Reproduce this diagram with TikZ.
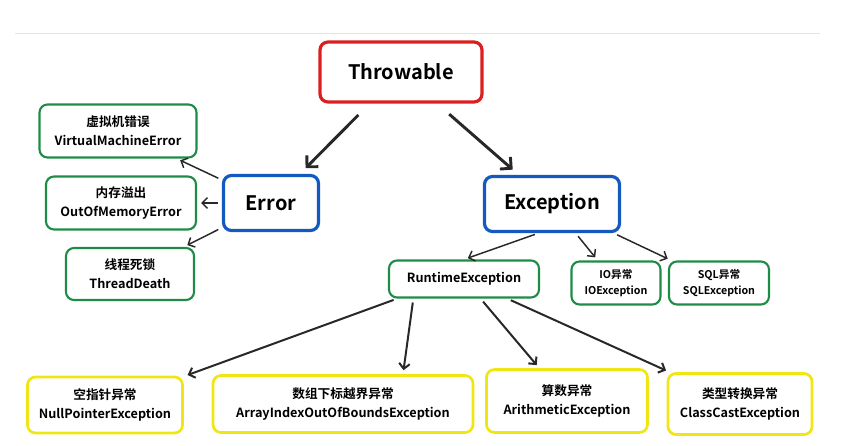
\documentclass[tikz,border=0pt]{standalone}
\usepackage{fontspec}
\setmainfont{Noto Sans CJK SC}[BoldFont={Noto Sans CJK SC Bold}]
\usetikzlibrary{arrows.meta}
\begin{document}
\begin{tikzpicture}[x=0.75pt,y=-0.75pt,
  box/.style={draw, rounded corners=6pt, line width=1.6pt, align=center, font=\bfseries\fontsize{9.5}{14}\selectfont, inner sep=0pt},
  red/.style={box, draw={rgb,255:red,220;green,30;blue,30}, line width=2.4pt},
  blue/.style={box, draw={rgb,255:red,20;green,90;blue,190}, line width=2.4pt},
  grn/.style={box, draw={rgb,255:red,30;green,140;blue,70}},
  yel/.style={box, draw={rgb,255:red,240;green,230;blue,20}, line width=2pt},
  big/.style={draw={rgb,255:red,40;green,40;blue,40}, line width=2.2pt, -{Straight Barb[length=6pt,width=12pt]}, shorten <=12pt, shorten >=6pt},
  sm/.style={draw={rgb,255:red,40;green,40;blue,40}, line width=1.1pt, -{Straight Barb[length=4pt,width=8pt]}, shorten <=3pt, shorten >=3pt}]
\useasboundingbox (0,0) rectangle (847,446);
\draw[gray!20, line width=0.6pt] (15,33) -- (820,33);
\node[red, minimum width=162*0.75pt, minimum height=60*0.75pt, font=\bfseries\fontsize{15}{16}\selectfont] (thr) at (401,72) {Throwable};
\node[blue, minimum width=95*0.75pt, minimum height=55*0.75pt, font=\bfseries\fontsize{15}{16}\selectfont] (err) at (271,203) {Error};
\node[blue, minimum width=135*0.75pt, minimum height=55*0.75pt, font=\bfseries\fontsize{15}{16}\selectfont] (exc) at (552,204) {Exception};
\node[grn, minimum width=157*0.75pt, minimum height=53*0.75pt] (vme) at (118,131) {虚拟机错误\\VirtualMachineError};
\node[grn, minimum width=150*0.75pt, minimum height=53*0.75pt] (oom) at (121,203) {内存溢出\\OutOfMemoryError};
\node[grn, minimum width=128*0.75pt, minimum height=52*0.75pt] (td) at (130,274) {线程死锁\\ThreadDeath};
\node[grn, minimum width=150*0.75pt, minimum height=37*0.75pt] (rt) at (464,279) {RuntimeException};
\node[grn, minimum width=89*0.75pt, minimum height=43*0.75pt, font=\bfseries\fontsize{8}{12}\selectfont] (io) at (616,283) {IO异常\\IOException};
\node[grn, minimum width=100*0.75pt, minimum height=43*0.75pt, font=\bfseries\fontsize{8}{12}\selectfont] (sql) at (719,283) {SQL异常\\SQLException};
\node[yel, minimum width=155*0.75pt, minimum height=56*0.75pt] (np) at (105,405) {空指针异常\\NullPointerException};
\node[yel, minimum width=260*0.75pt, minimum height=57*0.75pt] (ai) at (343,404) {数组下标越界异常\\ArrayIndexOutOfBoundsException};
\node[yel, minimum width=161*0.75pt, minimum height=63*0.75pt] (ar) at (567,401) {算数异常\\ArithmeticException};
\node[yel, minimum width=144*0.75pt, minimum height=61*0.75pt] (cc) at (740,404) {类型转换异常\\ClassCastException};
\coordinate (e1) at ([xshift=-10pt]exc.south);
\coordinate (r0) at ([xshift=-50pt]rt.south);
\coordinate (r1) at ([xshift=-38pt]rt.south);
\coordinate (a1) at ([xshift=45pt]ai.north);
\draw[big] (thr) -- (err);
\draw[big] (thr) -- (exc);
\draw[sm] (err) -- (vme);
\draw[sm] (err) -- (oom);
\draw[sm] (err) -- (td);
\draw[sm] (e1) -- (rt.north);
\draw[sm] (exc) -- (io);
\draw[sm] (exc) -- (sql);
\draw[sm, line width=1.5pt] (r0) -- (np);
\draw[sm, line width=1.5pt] (r1) -- (a1);
\draw[sm, line width=1.5pt] (rt) -- (ar);
\draw[sm, line width=1.5pt] (rt) -- (cc);
\end{tikzpicture}
\end{document}
